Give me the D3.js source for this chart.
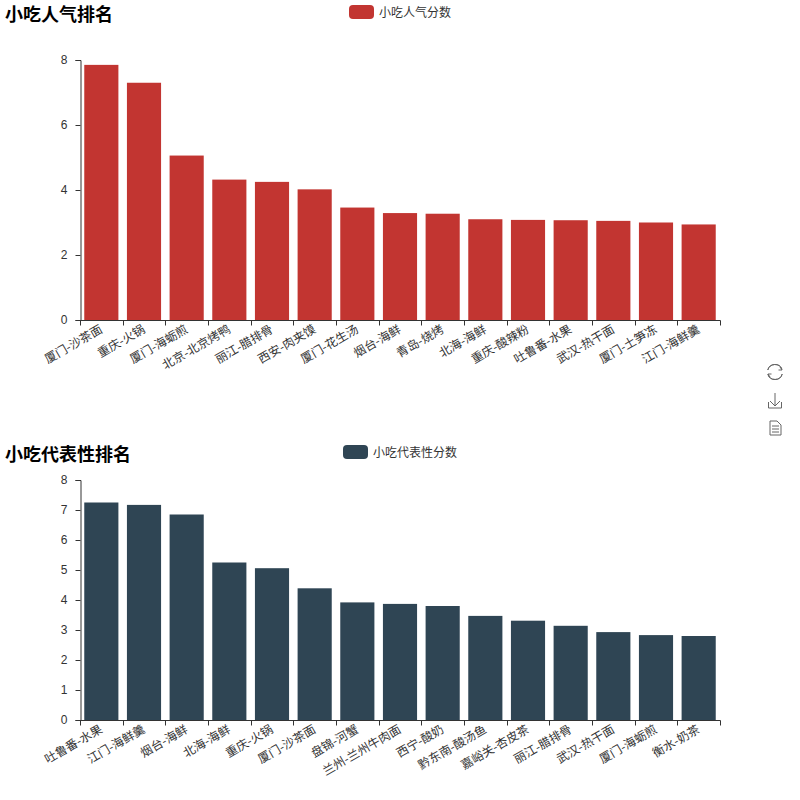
<!DOCTYPE html>
<html>
<head>
<meta charset="utf-8">
<script src="https://cdn.jsdelivr.net/npm/d3@7"></script>
<style>
html, body { margin: 0; padding: 0; background: #fff; }
text { font-family: "Noto Sans CJK SC", "Liberation Sans", sans-serif; }
</style>
</head>
<body>
<svg id="chart" width="800" height="800"></svg>
<script>
// 小吃人气排名
var popNames = ['厦门-沙茶面','重庆-火锅','厦门-海蛎煎','北京-北京烤鸭','丽江-腊排骨','西安-肉夹馍','厦门-花生汤','烟台-海鲜','青岛-烧烤','北海-海鲜','重庆-酸辣粉','吐鲁番-水果','武汉-热干面','厦门-土笋冻','江门-海鲜羹'];
var popValues = [7.85, 7.3, 5.06, 4.32, 4.25, 4.02, 3.46, 3.29, 3.27, 3.1, 3.08, 3.07, 3.05, 3.0, 2.94];
var popTicks = [0, 2, 4, 6, 8];

// 小吃代表性排名
var repNames = ['吐鲁番-水果','江门-海鲜羹','烟台-海鲜','北海-海鲜','重庆-火锅','厦门-沙茶面','盘锦-河蟹','兰州-兰州牛肉面','西宁-酸奶','黔东南-酸汤鱼','嘉峪关-杏皮茶','丽江-腊排骨','武汉-热干面','厦门-海蛎煎','衡水-奶茶'];
var repValues = [7.25, 7.17, 6.85, 5.25, 5.06, 4.39, 3.92, 3.87, 3.8, 3.47, 3.31, 3.14, 2.93, 2.83, 2.8];
var repTicks = [0, 1, 2, 3, 4, 5, 6, 7, 8];

var svg = d3.select('#chart');

function drawPanel(opt){
	var g = svg.append('g').attr('class', 'panel');
	var x = d3.scaleBand().domain(opt.names).range([80, 720]).paddingInner(0.2).paddingOuter(0.1);
	var band = d3.scaleBand().domain(opt.names).range([80, 720]);
	var y = d3.scaleLinear().domain([0, 8]).range([opt.bottom, opt.top]);

	// title and legend
	g.append('text').attr('x', 5).attr('y', opt.titleY)
		.attr('font-size', 18).attr('font-weight', 'bold').attr('fill', '#000')
		.text(opt.title);
	g.append('rect').attr('x', opt.legendX).attr('y', opt.legendY).attr('width', 25).attr('height', 14).attr('rx', 4)
		.attr('fill', opt.color);
	g.append('text').attr('x', opt.legendX + 30).attr('y', opt.legendY + 11.5)
		.attr('font-size', 12).attr('fill', '#333')
		.text(opt.legend);

	// bars
	g.selectAll('rect.bar').data(opt.values).enter()
		.append('rect')
		.attr('class', 'bar')
		.attr('x', function(d, i){ return x(opt.names[i]); })
		.attr('y', function(d){ return y(d); })
		.attr('width', x.bandwidth())
		.attr('height', function(d){ return opt.bottom - y(d); })
		.attr('fill', opt.color);

	// y axis
	var yAxis = g.append('g').attr('transform', 'translate(80.5,0)')
		.call(d3.axisLeft(y).tickValues(opt.ticks).tickFormat(d3.format('d')).tickSize(5).tickPadding(8));
	yAxis.selectAll('path, line').attr('stroke', '#333');
	yAxis.selectAll('text').attr('font-size', 12).attr('fill', '#333')
		.style('font-family', '"Liberation Sans", sans-serif');

	// x axis, ticks on the band edges
	var xAxis = g.append('g').attr('transform', 'translate(0,' + (opt.bottom + 0.5) + ')');
	xAxis.append('line').attr('x1', 80.5).attr('x2', 720.5).attr('stroke', '#333');
	xAxis.selectAll('line.tick').data(d3.range(opt.names.length + 1)).enter()
		.append('line')
		.attr('class', 'tick')
		.attr('x1', function(i){ return Math.round(80 + i * band.bandwidth()) + 0.5; })
		.attr('x2', function(i){ return Math.round(80 + i * band.bandwidth()) + 0.5; })
		.attr('y2', 5)
		.attr('stroke', '#333');
	xAxis.selectAll('text').data(opt.names).enter()
		.append('text')
		.attr('transform', function(d){
			return 'translate(' + (band(d) + band.bandwidth() / 2 - 1) + ',6) rotate(-30)';
		})
		.attr('text-anchor', 'end')
		.attr('dy', '0.5em')
		.attr('font-size', 12)
		.attr('fill', '#333')
		.text(function(d){ return d; });
}

drawPanel({title: '小吃人气排名', legend: '小吃人气分数', names: popNames, values: popValues, ticks: popTicks,
	color: '#c23531', top: 60, bottom: 320, titleY: 21, legendX: 349, legendY: 5});
drawPanel({title: '小吃代表性排名', legend: '小吃代表性分数', names: repNames, values: repValues, ticks: repTicks,
	color: '#2f4554', top: 480, bottom: 720, titleY: 461, legendX: 343, legendY: 445});

// toolbox icons
var icons = svg.append('g').attr('fill', 'none').attr('stroke', '#666').attr('stroke-width', 1);
var reload = icons.append('g').attr('transform', 'translate(775,372)');
reload.append('path').attr('d', d3.arc()({innerRadius: 7.5, outerRadius: 7.5, startAngle: -1.3, endAngle: 1.2}));
reload.append('path').attr('d', d3.arc()({innerRadius: 7.5, outerRadius: 7.5, startAngle: 1.85, endAngle: 4.4}));
reload.append('path').attr('d', 'M5,-5 L7,-2 L3.5,-2');
reload.append('path').attr('d', 'M-5,5 L-7,2 L-3.5,2');
icons.append('path').attr('d', 'M775,393 V406 M770,401 L775,406 L780,401 M768.5,402 V408 H781.5 V402');
icons.append('path').attr('d', 'M770,421 H777 L781,425 V435 H770 Z M772,426 H779 M772,429 H779 M772,432 H779');
</script>
</body>
</html>
